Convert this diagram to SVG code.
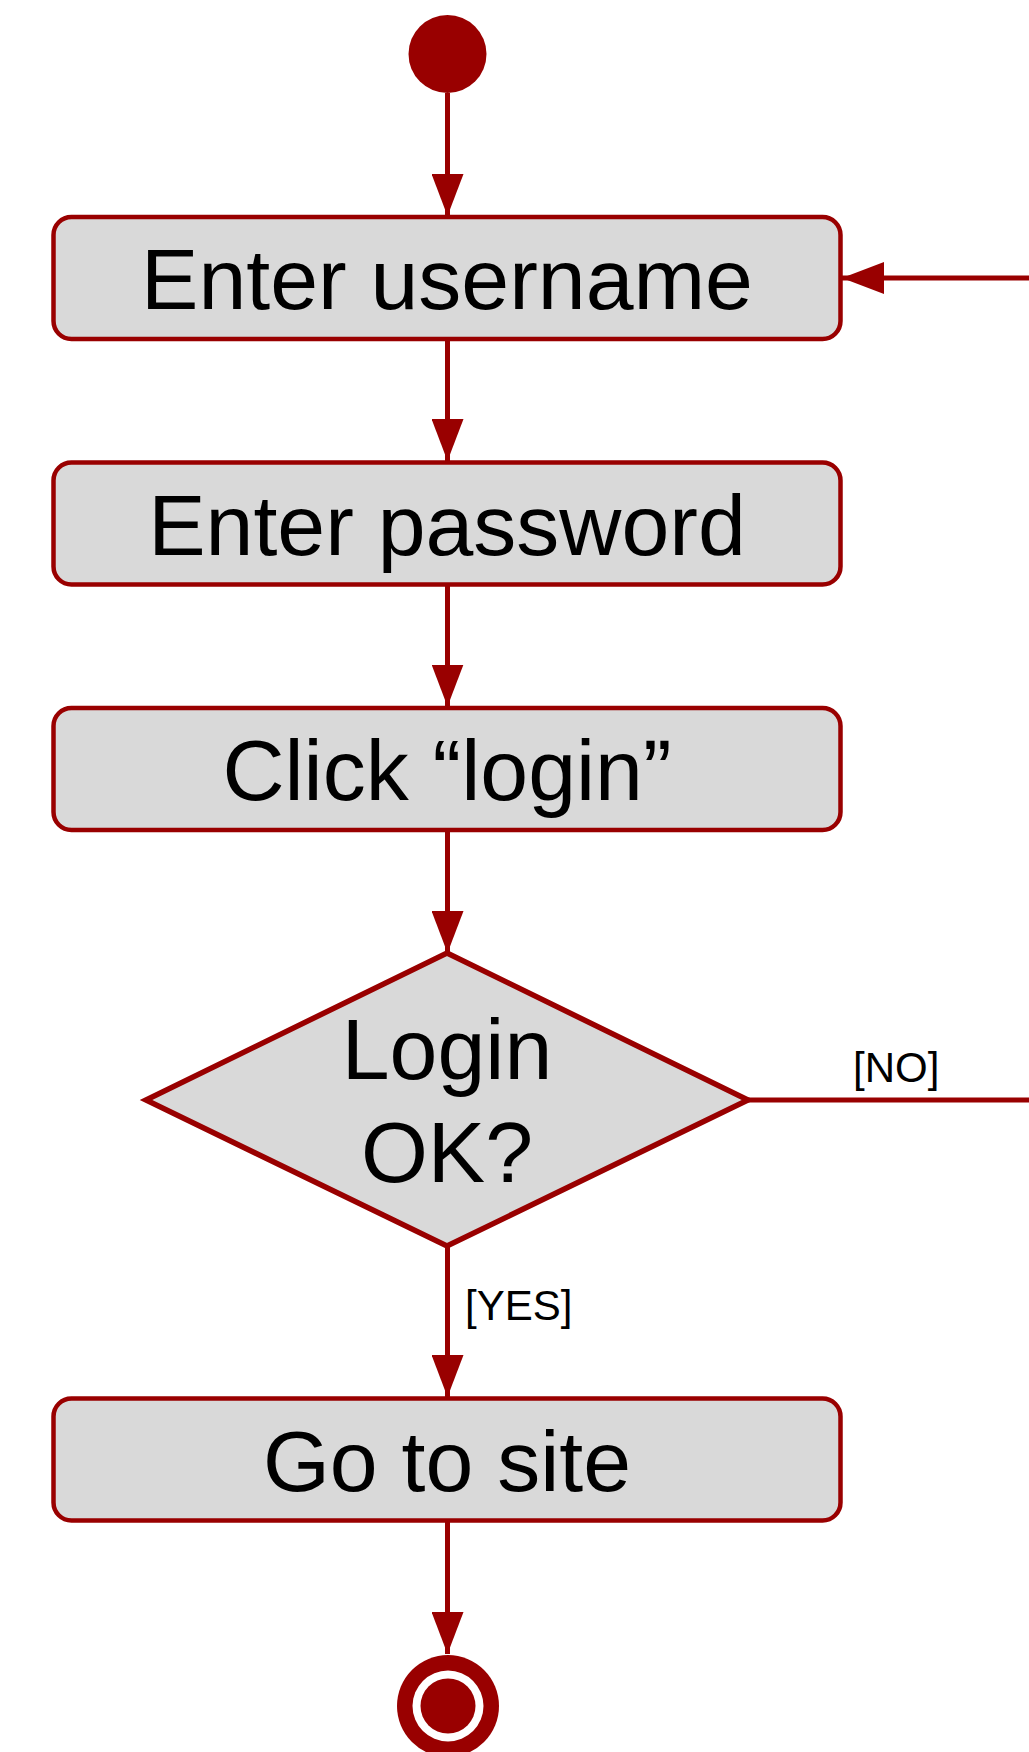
<svg xmlns="http://www.w3.org/2000/svg" width="1029" height="1752" viewBox="0 0 1029 1752">
<style>
.node{fill:#d9d9d9;stroke:#990000;stroke-width:4.5}
.dia{stroke-width:5.5}
.lbl{font-family:"Liberation Sans",Arial,sans-serif;font-size:86px;fill:#000;text-anchor:middle}
.guard{font-family:"Liberation Sans",Arial,sans-serif;font-size:42px;fill:#000}
.edge{fill:none;stroke:#990000;stroke-width:5}
</style>
<defs>
<marker id="arr" markerUnits="userSpaceOnUse" markerWidth="42" markerHeight="32" refX="42" refY="16" orient="auto">
<path d="M0,0 L42,16 L0,32 z" fill="#990000"/>
</marker>
</defs>
<rect width="1029" height="1752" fill="#ffffff"/>
<g id="connectors">
<path class="edge" d="M447.5,93 V216" marker-end="url(#arr)"/>
<path class="edge" d="M447.5,339 V461" marker-end="url(#arr)"/>
<path class="edge" d="M447.5,584.5 V706.5" marker-end="url(#arr)"/>
<path class="edge" d="M447.5,830 V953" marker-end="url(#arr)"/>
<path class="edge" d="M447.5,1246 V1397" marker-end="url(#arr)"/>
<path class="edge" d="M447.5,1520.5 V1654" marker-end="url(#arr)"/>
<path class="edge" d="M748,1100 H1060 V278 H842" marker-end="url(#arr)"/>
<text class="guard" x="465" y="1320">[YES]</text>
<text class="guard" x="853" y="1082">[NO]</text>
</g>
<g id="start">
<circle cx="447.5" cy="54" r="39" fill="#990000"/>
</g>
<g id="enter-username">
<rect class="node" x="53.5" y="217" width="787" height="122" rx="18"/>
<text class="lbl" x="447" y="309">Enter username</text>
</g>
<g id="enter-password">
<rect class="node" x="53.5" y="462.5" width="787" height="122" rx="18"/>
<text class="lbl" x="447" y="554.5">Enter password</text>
</g>
<g id="click-login">
<rect class="node" x="53.5" y="708" width="787" height="122" rx="18"/>
<text class="lbl" x="447" y="800">Click “login”</text>
</g>
<g id="login-ok">
<polygon class="node dia" points="447,953 748,1100 447,1246 146,1100"/>
<text class="lbl" x="447" y="1079">Login</text>
<text class="lbl" x="447" y="1182">OK?</text>
</g>
<g id="go-to-site">
<rect class="node" x="53.5" y="1398.5" width="787" height="122" rx="18"/>
<text class="lbl" x="447" y="1490.5">Go to site</text>
</g>
<g id="end">
<circle cx="448" cy="1706" r="51" fill="#990000"/>
<circle cx="448" cy="1706" r="35.5" fill="#ffffff"/>
<circle cx="448" cy="1706" r="27.5" fill="#990000"/>
</g>
</svg>
